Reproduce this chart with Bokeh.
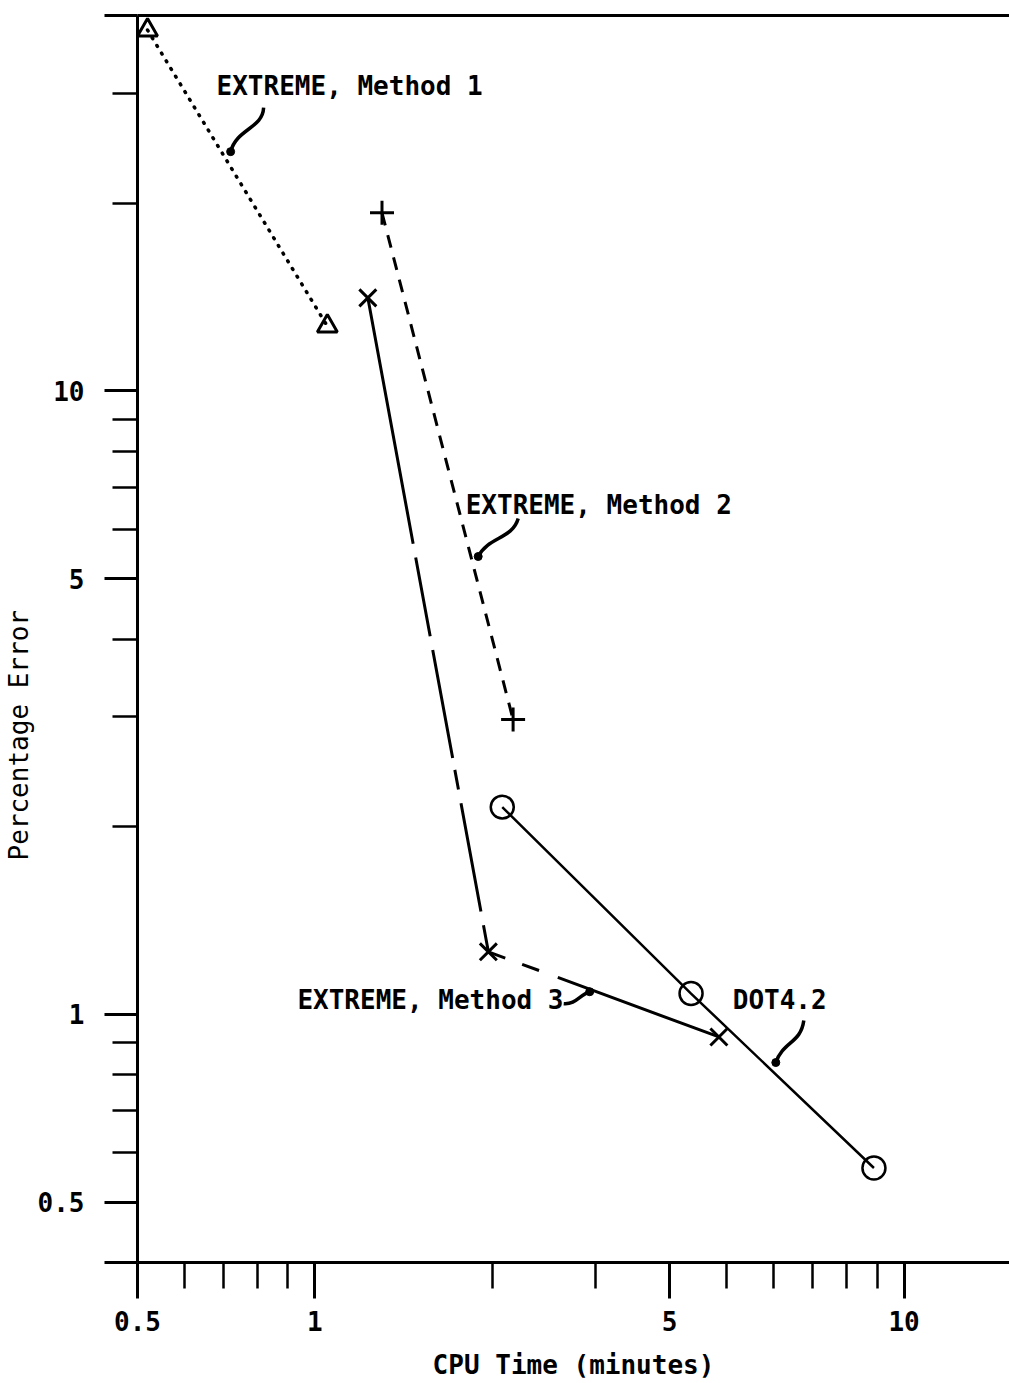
import math

from bokeh.core.properties import value
from bokeh.embed import file_html
from bokeh.models import FixedTicker, LogAxis, Range1d, Title
from bokeh.plotting import figure
from bokeh.resources import INLINE

# ---- data: CPU time (minutes) vs. percentage error -------------------------
m1_time = [0.52, 1.05]
m1_error = [37.9, 12.7]

m2_time = [1.30, 2.17]
m2_error = [19.3, 2.97]

m3_time = [1.23, 1.97, 4.85]
m3_error = [14.1, 1.26, 0.92]

dot_time = [2.08, 4.35, 8.89]
dot_error = [2.15, 1.08, 0.567]

x_ticks = [0.5, 1, 4, 10]
x_tick_labels = ["0.5", "1", "5", "10"]
x_minor_ticks = [0.6, 0.7, 0.8, 0.9, 2, 3, 5, 6, 7, 8, 9]

y_ticks = [0.4, 0.5, 1, 5, 10, 40]
y_tick_labels = ["", "0.5", "1", "5", "10", ""]
y_minor_ticks = [0.6, 0.7, 0.8, 0.9, 2, 3, 4, 6, 7, 8, 9, 20, 30]

series_names = ["EXTREME, Method 1", "EXTREME, Method 2",
                "EXTREME, Method 3", "DOT4.2"]

# ---- layout ----------------------------------------------------------------
W, H = 1009, 1383
LEFT, RIGHT, TOP, BOTTOM = 137, 0, 15, 121
X_LO, X_HI = 0.5, 15.1
Y_LO, Y_HI = 0.4, 40
FONT = "DejaVu Sans Mono"
INK = "black"

KX = (W - LEFT - RIGHT) / math.log10(X_HI / X_LO)   # px per decade
KY = (H - TOP - BOTTOM) / math.log10(Y_HI / Y_LO)


def along(xs, ys, i, t):
    """Point a fraction t along segment i of a log-log polyline."""
    lx = math.log10(xs[i]) + t * (math.log10(xs[i + 1]) - math.log10(xs[i]))
    ly = math.log10(ys[i]) + t * (math.log10(ys[i + 1]) - math.log10(ys[i]))
    return 10 ** lx, 10 ** ly


def shift(pt, dx, dy):
    """Move a data point by (dx, dy) screen pixels (dy positive = down)."""
    x, y = pt
    return x * 10 ** (dx / KX), y * 10 ** (-dy / KY)


p = figure(width=W, height=H, x_axis_type="log", y_axis_type="log",
           x_range=Range1d(X_LO, X_HI), y_range=Range1d(Y_LO, Y_HI),
           output_backend="svg", toolbar_location=None,
           min_border_left=LEFT, min_border_right=RIGHT,
           min_border_top=TOP, min_border_bottom=BOTTOM,
           background_fill_color="white", border_fill_color="white")
p.outline_line_color = None
p.grid.visible = False


def style_axis(ax, major_out, minor_out, standoff):
    ax.axis_line_color = INK
    ax.axis_line_width = 3
    ax.major_tick_line_color = INK
    ax.major_tick_line_width = 3
    ax.minor_tick_line_color = INK
    ax.minor_tick_line_width = 2.5
    ax.major_tick_in = 0
    ax.minor_tick_in = 0
    ax.major_tick_out = major_out
    ax.minor_tick_out = minor_out
    ax.major_label_standoff = standoff
    ax.major_label_text_font = FONT
    ax.major_label_text_font_size = "26px"
    ax.major_label_text_font_style = "bold"
    ax.major_label_text_color = INK


xax = p.xaxis[0]
xax.ticker = FixedTicker(ticks=x_ticks, minor_ticks=x_minor_ticks)
xax.major_label_overrides = dict(zip(x_ticks, x_tick_labels))
style_axis(xax, 36, 26, 12)
xax.axis_label = "CPU Time (minutes)"
xax.axis_label_text_font = FONT
xax.axis_label_text_font_size = "26px"
xax.axis_label_text_font_style = "bold"
xax.axis_label_text_color = INK
xax.axis_label_standoff = 16

yax = p.yaxis[0]
yax.ticker = FixedTicker(ticks=y_ticks, minor_ticks=y_minor_ticks)
yax.major_label_overrides = dict(zip(y_ticks, y_tick_labels))
style_axis(yax, 33, 25, 20)

# plain rule along the top edge
top = LogAxis(ticker=FixedTicker(ticks=[]), major_tick_out=0, minor_tick_out=0,
              major_label_standoff=0, axis_line_color=INK, axis_line_width=3)
p.add_layout(top, "above")

# vertical axis title, set low on the left edge
ytitle = Title(text="Percentage Error", align="left", offset=402, standoff=2,
               text_font=FONT, text_font_size="26px",
               text_font_style="normal", text_color=INK)
p.add_layout(ytitle, "left")

# ---- series ----------------------------------------------------------------
p.line(m1_time, m1_error, line_color=INK, line_width=3.5,
       line_dash="1 8", line_cap="round")
p.scatter(m1_time, m1_error, marker="triangle", size=20, line_width=3,
          line_color=INK, fill_color=None)

p.line(m2_time, m2_error, line_color=INK, line_width=3, line_dash="13 10")
p.scatter(m2_time, m2_error, marker="cross", size=24, line_width=3,
          line_color=INK)

p.line(m3_time, m3_error, line_color=INK, line_width=3,
       line_dash="250 14 80 14 110 12 20 14 110 14 45 18 18 20 200")
p.scatter(m3_time, m3_error, marker="x", size=24, line_width=3,
          line_color=INK)

p.line(dot_time, dot_error, line_color=INK, line_width=2.5)
p.scatter(dot_time, dot_error, marker="circle", size=23, line_width=2.5,
          line_color=INK, fill_color=None)

# ---- callouts --------------------------------------------------------------
label_x = [0.681, 1.803, 0.934, 5.12]
label_y = [30.8, 6.56, 1.053, 1.053]
p.text(x=label_x, y=label_y, text=series_names, text_font=value(FONT),
       text_font_size=value("26px"), text_font_style="bold",
       text_color=INK, text_align="left", text_baseline="middle")

# (series, segment, fraction along it, pixel offsets of start, c1, c2, end)
leaders = [
    (m1_time, m1_error, 0, 0.451, [(35, -56), (34, -35), (8, -35), (2, -12)]),
    (m2_time, m2_error, 0, 0.688, [(46, -43), (40, -22), (16, -25), (6, -5)]),
    (m3_time, m3_error, 1, 0.457, [(-30, 13), (-18, 14), (-14, 4), (-4, 1)]),
    (dot_time, dot_error, 1, 0.447, [(31, -51), (28, -28), (10, -30), (3, -9)]),
]
bx0, by0, bx1, by1, bcx0, bcy0, bcx1, bcy1 = ([] for _ in range(8))
for xs, ys, seg, t, offs in leaders:
    tip = along(xs, ys, seg, t)
    s, c0, c1, e = (shift(tip, dx, dy) for dx, dy in offs)
    bx0.append(s[0]); by0.append(s[1])
    bcx0.append(c0[0]); bcy0.append(c0[1])
    bcx1.append(c1[0]); bcy1.append(c1[1])
    bx1.append(e[0]); by1.append(e[1])

p.bezier(x0=bx0, y0=by0, x1=bx1, y1=by1, cx0=bcx0, cy0=bcy0,
         cx1=bcx1, cy1=bcy1, line_color=INK, line_width=3.5)
p.scatter(bx1, by1, marker="circle", size=8, line_color=INK, fill_color=INK)

open("out.html", "w").write(file_html(p, INLINE))
